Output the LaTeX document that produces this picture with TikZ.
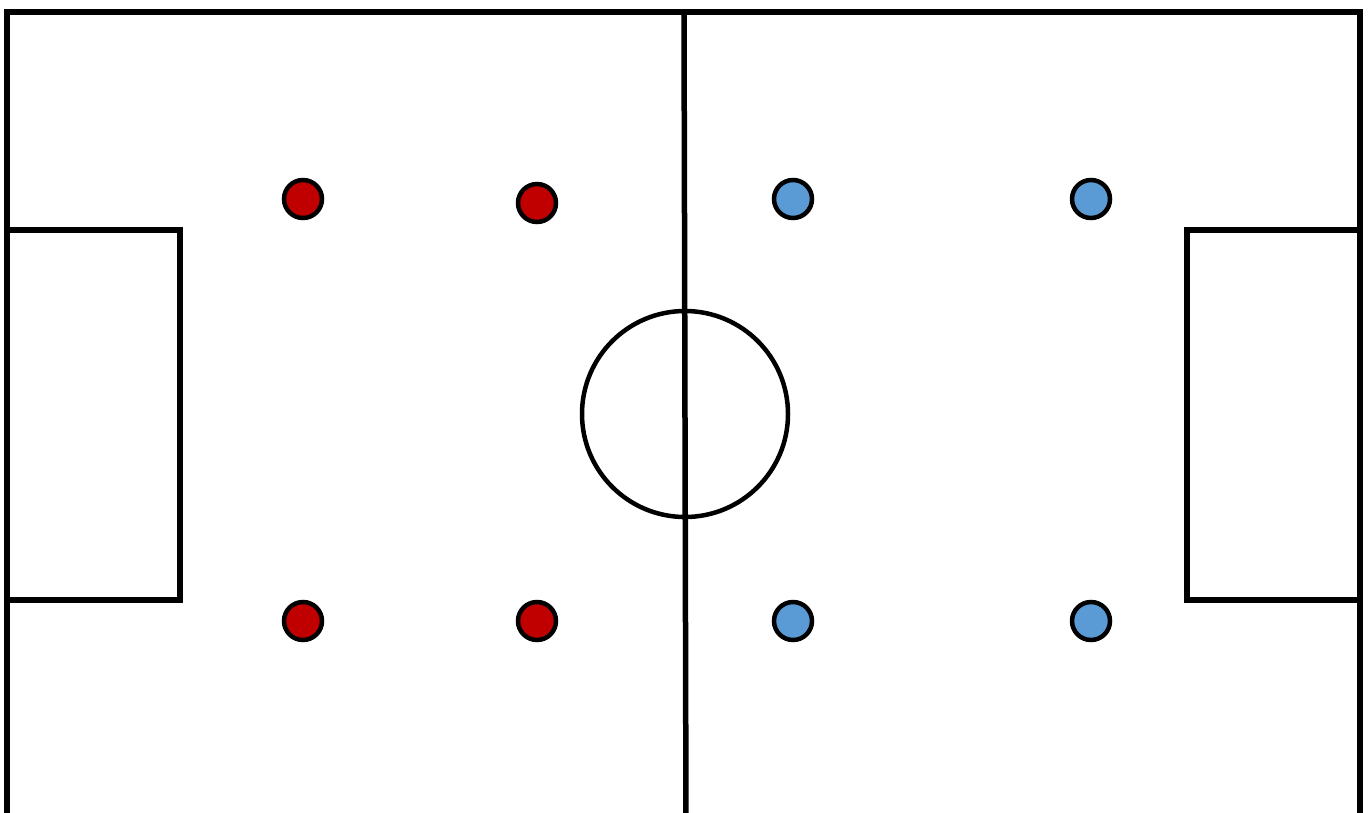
\documentclass[tikz,border=0pt]{standalone}
\usepackage{tikz}
\usetikzlibrary{positioning}
\usepackage{xcolor}
\definecolor{homered}{HTML}{C00000}
\definecolor{awayblue}{HTML}{5B9BD5}
\tikzset{
  pitchline/.style={draw=black, line width=5.5pt},
  homeplayer/.style={circle, draw=black, line width=4.5pt, fill=homered,
                     minimum size=38pt, inner sep=0pt},
  awayplayer/.style={circle, draw=black, line width=4.5pt, fill=awayblue,
                     minimum size=38pt, inner sep=0pt},
}
\begin{document}
\begin{tikzpicture}[x=1pt, y=-1pt]
\useasboundingbox (0,0) rectangle (1368,812);
% pitch
\draw[pitchline] (7,830) -- (7,12) -- (1360,12) -- (1360,830);
\draw[pitchline] (7,230) -- (180,230) -- (180,600) -- (7,600);
\draw[pitchline] (1360,230) -- (1187,230) -- (1187,600) -- (1360,600);
\coordinate (halftop) at (684,12);
\coordinate (halfbot) at (686,830);
\draw[pitchline] (halftop) -- (halfbot);
\draw[pitchline, line width=4.5pt] (685,414) circle (103);
% players
\node[homeplayer] (h1) at (303,199) {};
\node[homeplayer] (h2) at (537,203) {};
\node[homeplayer] (h3) at (303,621) {};
\node[homeplayer] (h4) at (537,621) {};
\node[awayplayer] (a1) at (793,199) {};
\node[awayplayer] (a2) at (1091,199) {};
\node[awayplayer] (a3) at (793,621) {};
\node[awayplayer] (a4) at (1091,621) {};
\end{tikzpicture}
\end{document}
